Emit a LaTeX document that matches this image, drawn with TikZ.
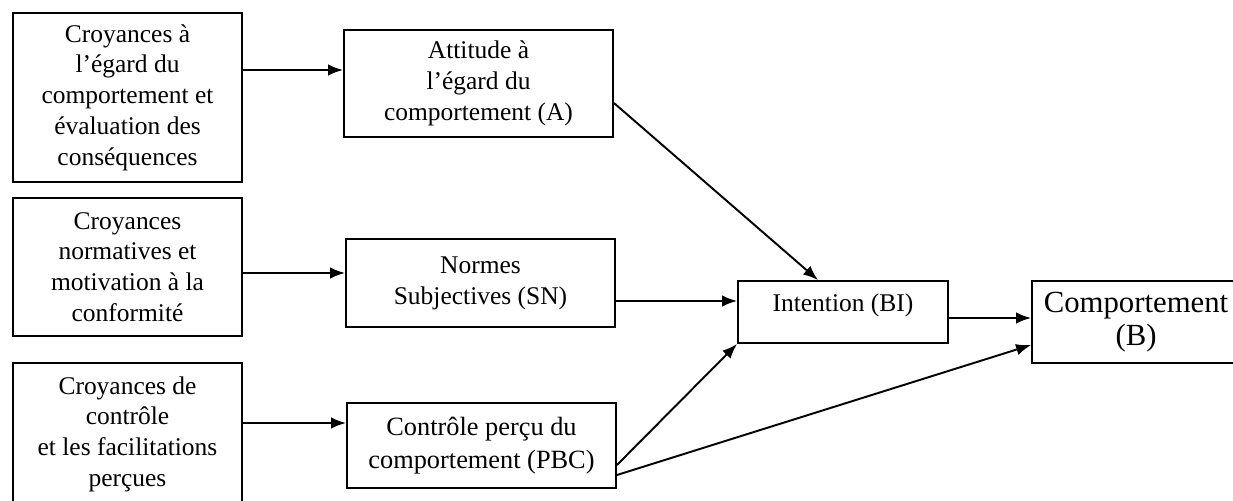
\documentclass[tikz,border=0pt]{standalone}
\usepackage{fontspec}
\setmainfont{Liberation Serif}
\usetikzlibrary{arrows.meta}

\tikzset{
	box/.style={draw, line width=1.1pt, align=center, inner sep=2pt,
		font=\fontsize{14.5}{17.5}\selectfont},
	arr/.style={-{Latex[length=8.5pt,width=6.5pt]}, line width=1.1pt},
}

\begin{document}
\begin{tikzpicture}[x=0.02cm, y=-0.02cm]
	\useasboundingbox (0,0) rectangle (1233,500);
	% left column
	\node[box, minimum width=4.58cm, minimum height=3.38cm] (crBeh) at (127.5,97.5)
		{Croyances à\\ l’égard du\\ comportement et\\ évaluation des\\ conséquences};
	\node[box, minimum width=4.58cm, minimum height=2.76cm] (crNorm) at (127.5,267)
		{Croyances\\ normatives et\\ motivation à la\\ conformité};
	\node[box, minimum width=4.58cm, minimum height=2.84cm] (crCtrl) at (127.5,434)
		{Croyances de\\ contrôle\\ et les facilitations\\ perçues};
	% middle column
	\node[box, minimum width=5.38cm, minimum height=2.14cm] (attA) at (478.5,83.5)
		{Attitude à\\ l’égard du\\ comportement (A)};
	\node[box, minimum width=5.38cm, minimum height=1.76cm] (normSN) at (480.5,283)
		{Normes\\ Subjectives (SN)};
	\node[box, minimum width=5.38cm, minimum height=1.70cm, font=\fontsize{15}{18.5}\selectfont]
		(ctrlPBC) at (481.5,445.5) {Contrôle perçu du\\ comportement (PBC)};
	% right
	\node[box, minimum width=4.20cm, minimum height=1.24cm, text depth=11pt] (intBI) at (843,312)
		{Intention (BI)};
	\node[box, minimum width=4.16cm, minimum height=1.64cm, font=\fontsize{17.5}{19}\selectfont]
		(behB) at (1136,322) {Comportement\\ (B)};

	\draw[arr] (crBeh.east |- 0,70) -- (attA.west |- 0,70);
	\draw[arr] (crNorm.east |- 0,273) -- (normSN.west |- 0,273);
	\draw[arr] (crCtrl.east |- 0,423) -- (ctrlPBC.west |- 0,423);
	\draw[arr] (attA.east |- 0,103) -- (intBI.north -| 818,0);
	\draw[arr] (normSN.east |- 0,301) -- (intBI.west |- 0,301);
	\draw[arr] (ctrlPBC.east |- 0,465) -- (intBI.south west);
	\draw[arr] (ctrlPBC.east |- 0,475) -- (behB.west |- 0,345);
	\draw[arr] (intBI.east |- 0,318) -- (behB.west |- 0,318);
\end{tikzpicture}
\end{document}
